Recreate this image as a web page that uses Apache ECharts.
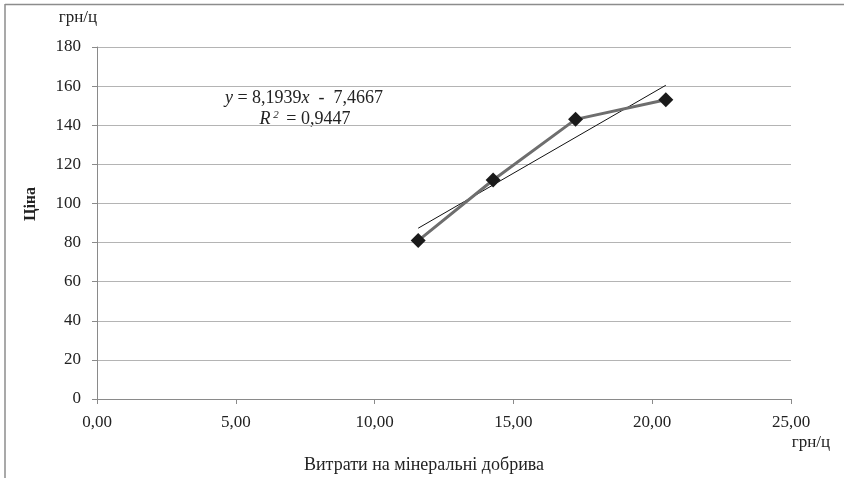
<!DOCTYPE html>
<html>
<head>
<meta charset="utf-8">
<script src="https://cdn.jsdelivr.net/npm/echarts@6/dist/echarts.min.js"></script>
<style>
  html, body { margin: 0; padding: 0; background: #fff; }
  #chart { width: 844px; height: 478px; }
</style>
</head>
<body>
<div id="chart"></div>
<script>
// ---- Data ----
var xValues = [11.57, 14.27, 17.24, 20.49];   // Витрати на мінеральні добрива, грн/ц
var yValues = [81, 112, 143, 153];            // Ціна, грн/ц
var xTickLabels = ['0,00', '5,00', '10,00', '15,00', '20,00', '25,00'];
var yTickLabels = ['0', '20', '40', '60', '80', '100', '120', '140', '160', '180'];
var trendSlope = 8.1939;
var trendIntercept = -7.4667;
var trendR2 = '0,9447';

var FONT = '"Liberation Serif", "DejaVu Serif", serif';

var points = xValues.map(function (x, i) { return [x, yValues[i]]; });
var xMin = Math.min.apply(null, xValues), xMax = Math.max.apply(null, xValues);
var trend = [xMin, xMax].map(function (x) { return [x, trendSlope * x + trendIntercept]; });

var chart = echarts.init(document.getElementById('chart'));
chart.setOption({
  animation: false,
  backgroundColor: '#fff',
  grid: { left: 97, right: 53, top: 47, bottom: 79, containLabel: false, outerBoundsMode: 'none' },
  xAxis: {
    type: 'value', min: 0, max: 25, interval: 5,
    axisLine: { show: true, lineStyle: { color: '#8a8a8a', width: 1 } },
    axisTick: { show: true, length: 5, lineStyle: { color: '#8a8a8a' } },
    splitLine: { show: false },
    axisLabel: {
      fontFamily: FONT, fontSize: 17, color: '#222', margin: 15,
      formatter: function (v) { return xTickLabels[Math.round(v / 5)]; }
    }
  },
  yAxis: {
    type: 'value', min: 0, max: 180, interval: 20,
    axisLine: { show: true, lineStyle: { color: '#8a8a8a', width: 1 } },
    axisTick: { show: true, length: 5, lineStyle: { color: '#8a8a8a' } },
    splitLine: { show: true, lineStyle: { color: '#b4b4b4', width: 1 } },
    axisLabel: {
      fontFamily: FONT, fontSize: 17, color: '#222', margin: 16,
      formatter: function (v) { return yTickLabels[Math.round(v / 20)]; }
    }
  },
  series: [
    {
      type: 'line',
      data: points,
      symbol: 'diamond',
      symbolSize: 15,
      lineStyle: { color: '#6e6e6e', width: 3 },
      itemStyle: { color: '#1a1a1a' },
      z: 3
    },
    {
      type: 'line',
      data: trend,
      symbol: 'none',
      lineStyle: { color: '#111', width: 1 },
      z: 2
    }
  ],
  graphic: [
    { type: 'line', shape: { x1: 5, y1: 4.5, x2: 844, y2: 4.5 }, style: { stroke: '#8c8c8c', lineWidth: 1.5 } },
    { type: 'line', shape: { x1: 5, y1: 4, x2: 5, y2: 478 }, style: { stroke: '#8c8c8c', lineWidth: 1.5 } },
    {
      type: 'text', x: 78, y: 18,
      style: { text: 'грн/ц', align: 'center', verticalAlign: 'middle', font: '17px ' + FONT, fill: '#222' }
    },
    {
      type: 'text', x: 811, y: 443,
      style: { text: 'грн/ц', align: 'center', verticalAlign: 'middle', font: '17px ' + FONT, fill: '#222' }
    },
    {
      type: 'text', x: 424, y: 465,
      style: { text: 'Витрати на мінеральні добрива', align: 'center', verticalAlign: 'middle', font: '18px ' + FONT, fill: '#222' }
    },
    {
      type: 'text', x: 31, y: 204, rotation: Math.PI / 2,
      style: { text: 'Ціна', align: 'center', verticalAlign: 'middle', font: 'bold 16px ' + FONT, fill: '#222' }
    },
    {
      type: 'text', x: 304, y: 98,
      style: {
        text: '{i|y} = 8,1939{i|x}  -  7,4667',
        align: 'center', verticalAlign: 'middle',
        fontFamily: FONT, fontSize: 18, fill: '#222',
        rich: {
          i: { fontFamily: FONT, fontSize: 18, fontStyle: 'italic', fill: '#222' }
        }
      }
    },
    {
      type: 'text', x: 305, y: 119,
      style: {
        text: '{i|R}{s| 2} = ' + trendR2,
        align: 'center', verticalAlign: 'middle',
        fontFamily: FONT, fontSize: 18, fill: '#222',
        rich: {
          i: { fontFamily: FONT, fontSize: 18, fontStyle: 'italic', fill: '#222' },
          s: { fontFamily: FONT, fontSize: 11, fontStyle: 'italic', fill: '#222', verticalAlign: 'top', padding: [0, 3, 7, 0] }
        }
      }
    }
  ]
});
</script>
</body>
</html>
